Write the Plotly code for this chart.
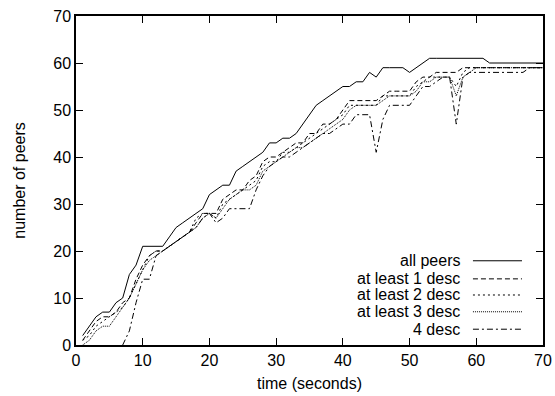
import plotly.graph_objects as go

# ---- data ----
time_s = list(range(1, 71))
all_peers = [2, 4, 6, 7, 7, 9, 10, 15, 17, 21,
             21, 21, 21, 23, 25, 26, 27, 28, 29, 32,
             33, 34, 34, 37, 38, 39, 40, 41, 43, 43,
             44, 44, 45, 47, 49, 51, 52, 53, 54, 55,
             55, 56, 56, 58, 57, 59, 59, 59, 59, 58,
             59, 60, 61, 61, 61, 61, 61, 61, 61, 61,
             61, 60, 60, 60, 60, 60, 60, 60, 60, 60]
at_least_1 = [1, 3, 5, 6, 6, 7, 9, 10, 14, 17,
              19, 20, 20, 21, 22, 23, 24, 26, 28, 28,
              28, 31, 32, 33, 33, 35, 36, 39, 40, 40,
              41, 42, 43, 43, 45, 45, 47, 47, 48, 50,
              52, 52, 52, 52, 52, 53, 54, 54, 54, 54,
              56, 57, 57, 58, 58, 58, 58, 59, 59, 59,
              59, 59, 59, 59, 59, 59, 59, 59, 59, 59]
at_least_2 = [1, 2, 4, 5, 6, 7, 8, 10, 13, 16,
              19, 20, 20, 21, 22, 23, 24, 27, 28, 28,
              27, 30, 31, 32, 33, 34, 35, 38, 39, 39,
              41, 41, 42, 43, 44, 45, 46, 47, 48, 49,
              51, 51, 51, 51, 51, 53, 53, 53, 53, 53,
              55, 56, 57, 57, 57, 57, 55, 58, 59, 59,
              59, 59, 59, 59, 59, 59, 59, 59, 59, 59]
at_least_3 = [0, 1, 3, 4, 4, 6, 8, 10, 13, 16,
              18, 19, 20, 21, 22, 23, 24, 25, 27, 28,
              27, 29, 31, 32, 33, 33, 34, 37, 38, 39,
              40, 41, 42, 42, 43, 44, 45, 46, 47, 48,
              50, 51, 51, 51, 51, 52, 53, 53, 53, 53,
              54, 56, 56, 57, 57, 57, 53, 57, 58, 59,
              59, 59, 59, 59, 59, 59, 59, 59, 59, 59]
four_desc_time = list(range(7, 71))
four_desc = [0, 3, 9, 14,
             14, 19, 20, 21, 22, 23, 24, 25, 27, 28,
             26, 27, 29, 29, 29, 29, 33, 36, 38, 39,
             40, 40, 41, 42, 43, 44, 45, 45, 46, 47,
             47, 49, 49, 49, 41, 48, 51, 51, 51, 51,
             53, 55, 55, 56, 57, 57, 47, 57, 58, 58,
             58, 58, 58, 58, 58, 58, 58, 59, 59, 59]
series_names = ["all peers", "at least 1 desc", "at least 2 desc",
                "at least 3 desc", "4 desc"]
x_ticks = [0, 10, 20, 30, 40, 50, 60, 70]
y_ticks = [0, 10, 20, 30, 40, 50, 60, 70]

# ---- styles ----
FONT = "Liberation Sans, Arial, Helvetica, sans-serif"
dashes = ["solid", "5px,3px", "2px,3px", "1px,1px", "6px,3px,2px,3px"]
xs = [time_s, time_s, time_s, time_s, four_desc_time]
ys = [all_peers, at_least_1, at_least_2, at_least_3, four_desc]

fig = go.Figure()
for name, x, y, d in zip(series_names, xs, ys, dashes):
    fig.add_trace(go.Scatter(x=x, y=y, mode="lines", name=name,
                             line=dict(color="black", width=1, dash=d),
                             showlegend=False))

# manual legend (text on left, sample on right, like gnuplot)
leg_rows_y = [0.256, 0.201, 0.152, 0.101, 0.048]
for name, d, yy in zip(series_names, dashes, leg_rows_y):
    fig.add_annotation(x=0.826, y=yy, xref="paper", yref="paper",
                       text=name, showarrow=False, xanchor="right",
                       yanchor="middle", font=dict(family=FONT, size=16, color="black"))
    fig.add_shape(type="line", xref="paper", yref="paper",
                  x0=0.850, x1=0.955, y0=yy, y1=yy,
                  line=dict(color="black", width=1, dash=d))

axis_common = dict(showgrid=False, zeroline=False, showline=True,
                   linecolor="black", linewidth=1.5, mirror="ticks",
                   ticks="inside", ticklen=7, tickwidth=1, tickcolor="black",
                   automargin=False,
                   tickfont=dict(family=FONT, size=16, color="black"))

fig.update_layout(
    width=555, height=396,
    margin=dict(l=76, r=12, t=16, b=51),
    paper_bgcolor="white", plot_bgcolor="white",
    font=dict(family=FONT, size=16, color="black"),
    xaxis=dict(range=[0, 70], tickvals=x_ticks, ticklabelstandoff=0,
               title=dict(text="time (seconds)", standoff=10,
                          font=dict(family=FONT, size=16)),
               **axis_common),
    yaxis=dict(range=[0, 70], tickvals=y_ticks,
               title=dict(text="number of peers", standoff=24,
                          font=dict(family=FONT, size=16)),
               **axis_common),
)

fig.write_html("out.html")
